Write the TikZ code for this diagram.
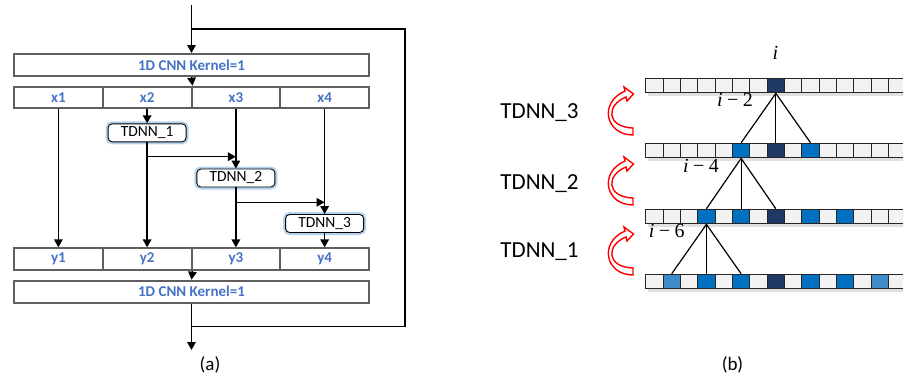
\documentclass[tikz,border=0pt]{standalone}
\usepackage{fontspec}
\setmainfont{Carlito}
\newfontfamily\idxfont{Liberation Serif}
\usetikzlibrary{arrows.meta}

\definecolor{labelblue}{HTML}{4472C4}
\definecolor{boxgray}{HTML}{5F5F5F}
\definecolor{glowblue}{HTML}{9DC3E6}
\definecolor{cellgray}{HTML}{F2F2F2}
\definecolor{cellnavy}{HTML}{203864}
\definecolor{cellblue}{HTML}{0070C0}
\definecolor{celllight}{HTML}{3E8BCB}
\definecolor{arrowred}{HTML}{FF0000}

% frame index written as italic i, minus sign, offset
\newcommand{\frameidx}[1]{{\itshape i}\kern0.22em\char"2212\kern0.22em#1}

\tikzset{
  layerbox/.style={draw=boxgray, line width=2pt, fill=white,
    minimum width=355pt, minimum height=22pt, inner sep=0pt,
    font=\fontsize{15}{15}\selectfont\bfseries, text=labelblue},
  slotbox/.style={layerbox, minimum width=88.75pt, minimum height=21.6pt},
  tdnnbox/.style={draw=black, line width=0.9pt, fill=white, rounded corners=4pt,
    minimum width=78pt, minimum height=18pt, inner sep=0pt,
    font=\fontsize{15.5}{15.5}\selectfont,
    preaction={draw=glowblue, line width=5pt, opacity=0.75}},
  link/.style={line width=1.5pt, -{Triangle[width=8.5pt,length=8pt]}},
  wire/.style={line width=1.5pt},
  cellbox/.style={draw=black!85, line width=1.1pt, minimum width=17.35pt,
    minimum height=14.5pt, inner sep=0pt},
  fan/.style={line width=1.2pt},
  mathlbl/.style={anchor=base, inner sep=0pt, font=\idxfont\fontsize{20}{20}\selectfont},
  layerlbl/.style={anchor=base, inner sep=0pt, font=\fontsize{23}{23}\selectfont},
  caption/.style={inner sep=0pt, font=\fontsize{19}{19}\selectfont},
  turnarrow/.pic={
    \draw[draw=arrowred, line width=1.4pt, fill=white, line join=miter]
      (25,48) .. controls (-2,48) and (-10,16) .. (17,4) -- (16,0) -- (25.5,7)
      -- (19,14) -- (18,10) .. controls (-2,18) and (-2,40) .. (25,41) -- cycle;
  }
}

\begin{document}
\begin{tikzpicture}[x=1pt, y=-1pt]
\useasboundingbox (0,0) rectangle (903,381);
\fill[white] (0,0) rectangle (903,381);

% ---------- (a): split TDNN block with residual skip ----------
\node[layerbox] (cnnA) at (191.5,65) {1D CNN Kernel=1};
\node[slotbox] (x1) at (58.375,97.5) {x1};
\node[slotbox] (x2) at (147.125,97.5) {x2};
\node[slotbox] (x3) at (235.875,97.5) {x3};
\node[slotbox] (x4) at (324.625,97.5) {x4};

\node[tdnnbox] (t1) at (147.125,132.8) {TDNN\_1};
\node[tdnnbox] (t2) at (235.875,178) {TDNN\_2};
\node[tdnnbox] (t3) at (324.625,223.5) {TDNN\_3};

\node[slotbox] (y1) at (58.375,259.2) {y1};
\node[slotbox] (y2) at (147.125,259.2) {y2};
\node[slotbox] (y3) at (235.875,259.2) {y3};
\node[slotbox] (y4) at (324.625,259.2) {y4};
\node[layerbox] (cnnB) at (191.5,291.7) {1D CNN Kernel=1};

\coordinate (src) at (191.5,5);
\coordinate (split) at (191.5,29);
\coordinate (skipNE) at (405,29);
\coordinate (skipSE) at (405,326.7);
\coordinate (merge) at (191.5,326.7);
\coordinate (sink) at (191.5,350);
\coordinate (tap1) at (147.125,156.7);
\coordinate (hit1) at (235.875,156.7);
\coordinate (tap2) at (235.875,202.3);
\coordinate (hit2) at (324.625,202.3);

\draw[link] (src) -- (cnnA.north);
\draw[wire] (split) -- (skipNE) -- (skipSE) -- (merge);
\draw[link] (cnnA.south) -- (x2.north east);
\draw[link] (x1.south) -- (y1.north);
\draw[link] (x2.south) -- (t1.north);
\draw[link] (t1.south) -- (y2.north);
\draw[link] (tap1) -- (hit1);
\draw[link] (x3.south) -- (t2.north);
\draw[link] (t2.south) -- (y3.north);
\draw[link] (tap2) -- (hit2);
\draw[link] (x4.south) -- (t3.north);
\draw[link] (t3.south) -- (y4.north);
\draw[link] (y2.south east) -- (cnnB.north);
\draw[link] (cnnB.south) -- (sink);

\node[caption] (capA) at (210,365) {(a)};

% ---------- (b): dilated context of the stacked TDNN layers ----------
\foreach \r/\ytop in {1/78.3, 2/143.3, 3/209.3, 4/274.3} {
  \fill[black!12] (647.5,{\ytop+14.5}) rectangle (906,{\ytop+17.5});
  \foreach \k in {0,...,14}
    \node[cellbox, fill=cellgray] (r\r c\k) at ({654.375+17.35*\k},{\ytop+7.25}) {};
}
% highlighted frames per row
\foreach \r/\ytop/\k/\col in {
    1/78.3/7/cellnavy,
    2/143.3/5/cellblue, 2/143.3/7/cellnavy, 2/143.3/9/cellblue,
    3/209.3/3/cellblue, 3/209.3/5/cellblue, 3/209.3/7/cellnavy,
    3/209.3/9/cellblue, 3/209.3/11/cellblue,
    4/274.3/1/celllight, 4/274.3/3/cellblue, 4/274.3/5/cellblue,
    4/274.3/7/cellnavy, 4/274.3/9/cellblue, 4/274.3/11/cellblue,
    4/274.3/13/celllight}
  \node[cellbox, fill=\col] (r\r c\k) at ({654.375+17.35*\k},{\ytop+7.25}) {};

\draw[fan] (r1c7.south) -- (r2c5.north);
\draw[fan] (r1c7.south) -- (r2c7.north);
\draw[fan] (r1c7.south) -- (r2c9.north);
\draw[fan] (r2c5.south) -- (r3c3.north);
\draw[fan] (r2c5.south) -- (r3c5.north);
\draw[fan] (r2c5.south) -- (r3c7.north);
\draw[fan] (r3c3.south) -- (r4c1.north);
\draw[fan] (r3c3.south) -- (r4c3.north);
\draw[fan] (r3c3.south) -- (r4c5.north);

\node[mathlbl] (idxI) at (775.5,59) {\itshape i};
\node[mathlbl] (idxI2) at (735,106) {\frameidx{2}};
\node[mathlbl] (idxI4) at (701,172.5) {\frameidx{4}};
\node[mathlbl] (idxI6) at (666.7,237.7) {\frameidx{6}};

\node[layerlbl] (lay3) at (539.5,118.3) {TDNN\_3};
\node[layerlbl] (lay2) at (539.5,189) {TDNN\_2};
\node[layerlbl] (lay1) at (539.5,257.3) {TDNN\_1};

\pic at (608,87) {turnarrow};
\pic at (608,157) {turnarrow};
\pic at (608,227) {turnarrow};

\node[caption] (capB) at (732.5,365) {(b)};
\end{tikzpicture}
\end{document}
